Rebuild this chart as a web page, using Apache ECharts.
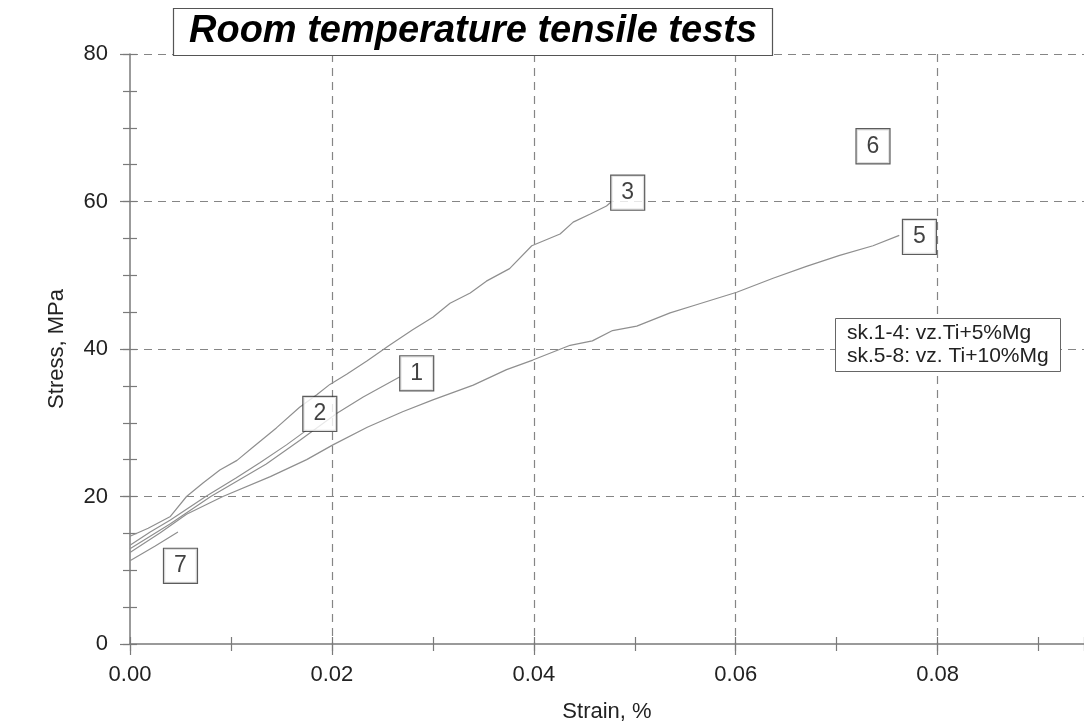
<!DOCTYPE html>
<html><head><meta charset="utf-8">
<script src="https://cdn.jsdelivr.net/npm/echarts@6/dist/echarts.min.js"></script>
<style>html,body{margin:0;padding:0;background:#fff}#c{width:1084px;height:728px}</style>
</head><body><div id="c"></div>
<script>
const chartTitle = 'Room temperature tensile tests';
const xAxisName = 'Strain, %';
const yAxisName = 'Stress, MPa';
const noteLines = ['sk.1-4: vz.Ti+5%Mg', 'sk.5-8: vz. Ti+10%Mg'];

const xMin = 0, xMax = 0.0945, xStep = 0.02, xMinorStep = 0.01;
const yMin = 0, yMax = 80, yStep = 20, yMinorStep = 5;

const strain1 = [0, 0.002, 0.004, 0.008, 0.0105, 0.0135, 0.0168, 0.0205, 0.0231, 0.0267];
const stress1 = [12.9, 14.6, 16.3, 20.0, 22.0, 24.4, 27.6, 31.3, 33.5, 36.2];

const strain2 = [0, 0.002, 0.004, 0.0075, 0.0105, 0.0129, 0.0155, 0.0175];
const stress2 = [13.4, 15.2, 16.8, 20.0, 22.5, 24.6, 27.0, 29.0];

const strain3 = [0, 0.0018, 0.004, 0.0056, 0.0072, 0.0089, 0.0106, 0.0122, 0.0145, 0.0168, 0.0185, 0.0198, 0.0215, 0.0235, 0.0257, 0.028, 0.030, 0.0317, 0.0337, 0.0353, 0.0376, 0.0398, 0.0426, 0.0439, 0.0456, 0.0472, 0.0478];
const stress3 = [14.6, 15.7, 17.3, 20.0, 21.8, 23.6, 24.9, 26.7, 29.3, 32.1, 33.8, 35.2, 36.6, 38.4, 40.5, 42.6, 44.3, 46.2, 47.6, 49.2, 50.9, 54.0, 55.6, 57.2, 58.3, 59.4, 60.1];

const strain5 = [0, 0.003, 0.0056, 0.0092, 0.0139, 0.0175, 0.0201, 0.0235, 0.027, 0.030, 0.034, 0.0373, 0.0399, 0.0436, 0.0458, 0.0478, 0.0502, 0.0535, 0.0561, 0.0601, 0.0637, 0.067, 0.0703, 0.0736, 0.0762];
const stress5 = [12.4, 15.1, 17.6, 20.0, 22.7, 25.0, 27.0, 29.4, 31.5, 33.1, 35.1, 37.2, 38.5, 40.5, 41.1, 42.5, 43.1, 44.9, 46.0, 47.7, 49.6, 51.2, 52.7, 54.0, 55.4];

const strain7 = [0, 0.0025, 0.00475];
const stress7 = [11.3, 13.3, 15.2];

const labelNames = ['1', '2', '3', '5', '6', '7'];
const labelStrain = [0.0284, 0.0188, 0.0493, 0.0782, 0.0736, 0.0050];
const labelStress = [36.7, 31.2, 61.2, 55.2, 67.5, 10.6];

const pairs = (xs, ys) => xs.map((x, i) => [x, ys[i]]);
const FONT = '"Liberation Sans", Arial, Helvetica, sans-serif';
const gridColor = '#858585';
const axisColor = '#7a7a7a';
const textColor = '#222';

const curve = (name, xs, ys) => ({
  name, type: 'line', data: pairs(xs, ys), showSymbol: false, symbol: 'none',
  lineStyle: { color: '#8f8f8f', width: 1.2 }, z: 3, silent: true
});

const minorX = (inside) => ({
  type: 'value', min: xMin, max: xMax, interval: xMinorStep, position: 'bottom',
  axisLine: { show: false }, axisLabel: { show: false }, splitLine: { show: false },
  axisTick: { show: true, inside, length: 7, lineStyle: { color: axisColor, width: 1.2 } }
});
const minorY = (inside) => ({
  type: 'value', min: yMin, max: yMax, interval: yMinorStep, position: 'left',
  axisLine: { show: false }, axisLabel: { show: false }, splitLine: { show: false },
  axisTick: { show: true, inside, length: 7, lineStyle: { color: axisColor, width: 1.2 } }
});

const option = {
  backgroundColor: '#fff',
  animation: false,
  textStyle: { fontFamily: FONT },
  title: [
    {
      text: chartTitle, left: 173, top: 8,
      padding: [4, 16], borderColor: '#555', borderWidth: 1.2, backgroundColor: '#fff',
      textStyle: { fontSize: 38, fontWeight: 'bold', fontStyle: 'italic', color: '#000', lineHeight: 40, fontFamily: FONT },
      z: 10
    },
    {
      text: noteLines.join('\n'), left: 835, top: 318,
      padding: [4, 12], borderColor: '#666', borderWidth: 1, backgroundColor: '#fff',
      textStyle: { fontSize: 21, fontWeight: 'normal', color: textColor, lineHeight: 23, fontFamily: FONT },
      z: 10
    }
  ],
  grid: { left: 130, right: 0, top: 54, bottom: 79, containLabel: false },
  xAxis: [
    {
      type: 'value', min: xMin, max: xMax, interval: xStep, position: 'bottom',
      name: xAxisName, nameLocation: 'middle', nameGap: 57,
      nameTextStyle: { fontSize: 22, color: textColor, fontFamily: FONT },
      axisLine: { show: true, lineStyle: { color: axisColor, width: 1.5 } },
      axisTick: { show: true, length: 11, lineStyle: { color: axisColor, width: 1.2 } },
      axisLabel: { fontSize: 22, color: textColor, margin: 20, showMaxLabel: false, formatter: v => v.toFixed(2), fontFamily: FONT },
      splitLine: { show: true, showMinLine: false, showMaxLine: false, lineStyle: { color: gridColor, type: [8, 6], width: 1.2 } }
    },
    minorX(false),
    minorX(true)
  ],
  yAxis: [
    {
      type: 'value', min: yMin, max: yMax, interval: yStep, position: 'left',
      name: yAxisName, nameLocation: 'middle', nameGap: 62,
      nameTextStyle: { fontSize: 22, color: textColor, fontFamily: FONT },
      axisLine: { show: true, lineStyle: { color: axisColor, width: 1.5 } },
      axisTick: { show: true, length: 10, lineStyle: { color: axisColor, width: 1.2 } },
      axisLabel: { fontSize: 22, color: textColor, margin: 22, fontFamily: FONT },
      splitLine: { show: true, showMinLine: false, lineStyle: { color: gridColor, type: [8, 6], width: 1.2 } }
    },
    minorY(false),
    minorY(true)
  ],
  series: [
    curve('1', strain1, stress1),
    curve('2', strain2, stress2),
    curve('3', strain3, stress3),
    curve('5', strain5, stress5),
    curve('7', strain7, stress7),
    {
      name: 'labels', type: 'scatter', symbolSize: 0, z: 8, silent: true,
      data: labelNames.map((n, i) => ({ name: n, value: [labelStrain[i], labelStress[i]] })),
      label: {
        show: true, position: 'inside', formatter: p => p.name,
        fontSize: 23, color: '#111', lineHeight: 24, fontFamily: FONT,
        backgroundColor: '#fff', borderColor: '#333', borderWidth: 1.2, padding: [5, 10]
      }
    }
  ]
};

const chart = echarts.init(document.getElementById('c'));
chart.setOption(option);
</script>
</body></html>
